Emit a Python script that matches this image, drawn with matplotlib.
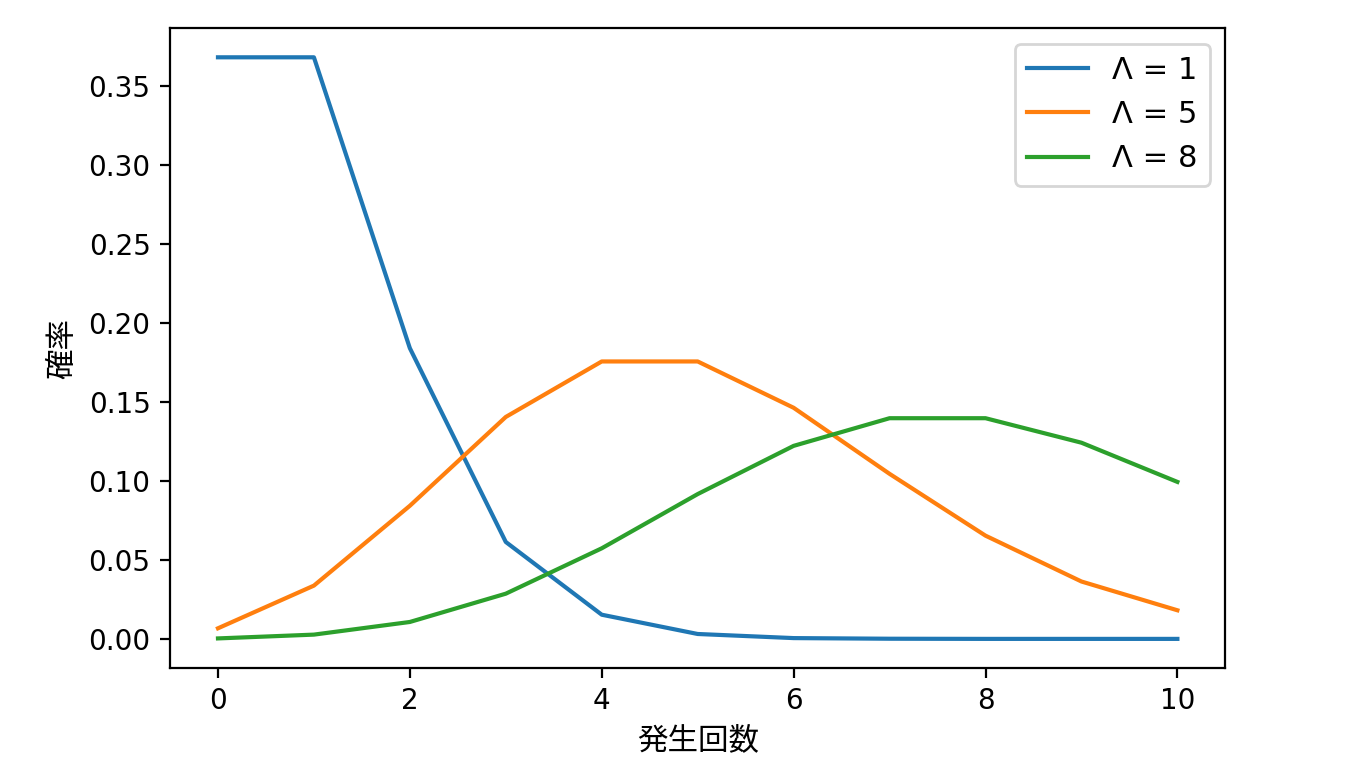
import matplotlib
matplotlib.use("Agg")
import matplotlib.pyplot as plt

plt.rcParams['font.family'] = ['DejaVu Sans', 'Noto Sans CJK JP']

counts = [0, 1, 2, 3, 4, 5, 6, 7, 8, 9, 10]
p_lam1 = [0.3679, 0.3679, 0.1839, 0.0613, 0.0153, 0.0031, 0.0005, 0.0001, 0.0000, 0.0000, 0.0000]
p_lam5 = [0.0067, 0.0337, 0.0842, 0.1404, 0.1755, 0.1755, 0.1462, 0.1044, 0.0653, 0.0363, 0.0181]
p_lam8 = [0.0003, 0.0027, 0.0107, 0.0286, 0.0573, 0.0916, 0.1221, 0.1396, 0.1396, 0.1241, 0.0993]
labels = ["Λ = 1", "Λ = 5", "Λ = 8"]

fig, ax = plt.subplots(figsize=(6.8, 3.92), dpi=200)
fig.subplots_adjust(left=0.125, right=0.901, top=0.964, bottom=0.148)

for ys, lab in zip([p_lam1, p_lam5, p_lam8], labels):
    ax.plot(counts, ys, label=lab)

ax.set_xlabel("発生回数", fontsize=11)
ax.set_ylabel("確率", fontsize=11)
ax.legend(loc="upper right", fontsize=11)

plt.savefig("out.png")
